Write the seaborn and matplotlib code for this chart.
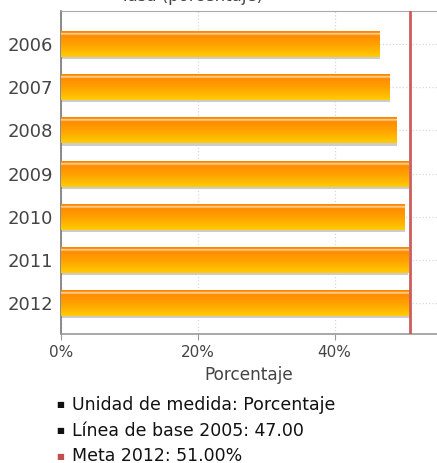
import numpy as np
import pandas as pd
import matplotlib
matplotlib.use('Agg')
import matplotlib.pyplot as plt
import seaborn as sns
from matplotlib.colors import LinearSegmentedColormap
from matplotlib.patches import Rectangle

# Datos
anios = ['2006', '2007', '2008', '2009', '2010', '2011', '2012']
valores = [46.6, 48.1, 49.1, 50.9, 50.3, 50.8, 51.0]
meta = 51.0
ticks_x = [0, 20, 40]
etiquetas_x = ['0%', '20%', '40%']
notas = ['Unidad de medida: Porcentaje', 'Línea de base 2005: 47.00', 'Meta 2012: 51.00%']
colores_notas = ['#111111', '#111111', '#C0504D']

sns.set_style('white')
plt.rcParams['font.family'] = ['DejaVu Sans']

fig = plt.figure(figsize=(4.37, 4.63), dpi=100)
ax = fig.add_axes([61.3 / 437, 1 - 334 / 463, 1 - 61.3 / 437, (334 - 11) / 463])

df = pd.DataFrame({'anio': anios, 'valor': valores})
sns.barplot(data=df, x='valor', y='anio', orient='h', width=0.6,
            color='#FFA000', ax=ax, zorder=3)

# Degradado naranja -> amarillo con brillo arriba y sombra gris abajo
cmap = LinearSegmentedColormap.from_list('barra', [
    (0.0, '#FF8800'), (0.06, '#FF8A00'), (0.10, '#FFEBD0'),
    (0.16, '#FF8C00'), (0.5, '#FFA000'), (0.88, '#FFC200'), (1.0, '#FFCC10')])
grad = np.linspace(0, 1, 200).reshape(-1, 1)
for p in list(ax.patches):
    x, y, w, h = p.get_x(), p.get_y(), p.get_width(), p.get_height()
    p.set_alpha(0)
    ax.add_patch(Rectangle((x, y + h), w, 0.05, color='#CCCCCC', lw=0, zorder=2))
    ax.imshow(grad, extent=[x, x + w, y + h, y], aspect='auto', cmap=cmap,
              origin='upper', zorder=3, interpolation='bilinear')

ax.axvline(meta, color='#CD5C5C', lw=2, zorder=4)

ax.set_xlim(0, 55)
ax.set_ylim(6.72, -0.77)
ax.set_xticks(ticks_x)
ax.set_xticklabels(etiquetas_x)
ax.grid(True, linestyle=':', color='#D8D8D8', lw=0.9, zorder=0)
ax.set_axisbelow(True)

ax.spines['right'].set_visible(False)
ax.spines['top'].set_color('#AAAAAA')
ax.spines['left'].set_color('#777777')
ax.spines['bottom'].set_color('#999999')
ax.spines['left'].set_linewidth(1.2)
ax.spines['bottom'].set_linewidth(1.2)

ax.tick_params(axis='y', length=0, pad=6, labelsize=13, labelcolor='#444444')
ax.tick_params(axis='x', length=4, color='#999999', pad=4, labelsize=11,
               labelcolor='#444444', bottom=True)
ax.set_ylabel('')
ax.set_xlabel('Porcentaje', fontsize=12.2, color='#444444', labelpad=4)

# Título recortado arriba, como en la imagen original
fig.text(192 / 437, 1 - 1 / 463, 'Tasa (porcentaje)', ha='center', va='baseline',
         fontsize=12, color='#444444')

for i, (nota, col) in enumerate(zip(notas, colores_notas)):
    yy = 1 - (405 + i * 25.5) / 463
    fig.text(60 / 437, yy, '■', ha='center', va='center', fontsize=6, color=col)
    fig.text(72 / 437, yy, nota, ha='left', va='center', fontsize=12.5, color='#111111')

fig.savefig('out.png', dpi=100)
